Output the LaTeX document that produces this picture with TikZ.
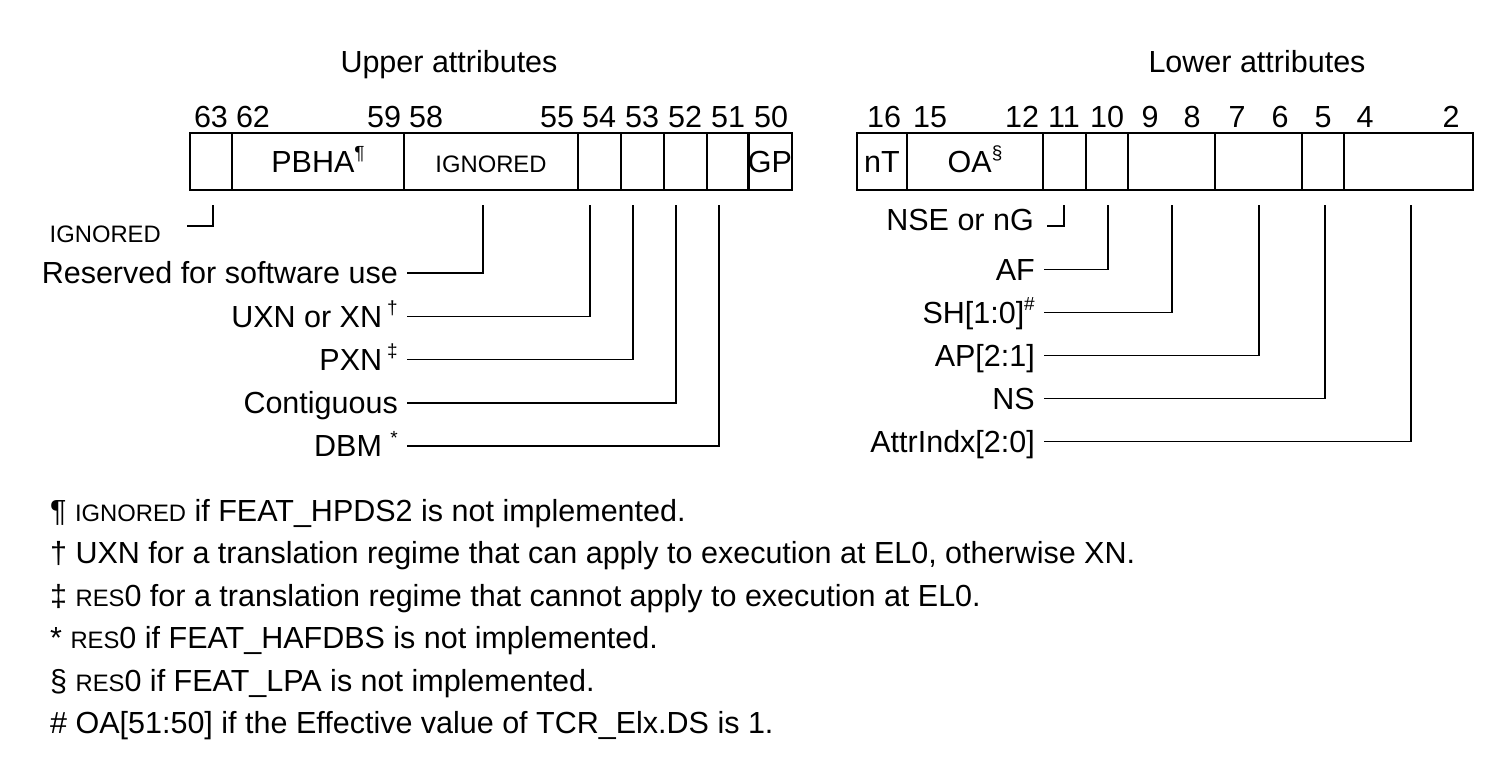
\documentclass[tikz,border=0pt]{standalone}
\usepackage{fontspec}
\setmainfont{Liberation Sans}
\newcommand{\smc}[1]{{\fontsize{23.8}{28}\selectfont #1}}
\newcommand{\supm}[1]{\raisebox{0.42em}{\fontsize{19}{22}\selectfont #1}}
\begin{document}
\begin{tikzpicture}[x=1pt,y=-1pt,
  every node/.style={font=\fontsize{30.5}{36}\selectfont, inner sep=0pt},
  field/.style={draw, line width=2.2pt, minimum height=57pt, text height=21.8pt, text depth=0pt},
  bitnum/.style={anchor=base},
  lbl/.style={anchor=east, text height=21.8pt, text depth=0pt, inner xsep=9pt, inner ysep=0pt},
  conn/.style={line width=1.8pt},
  foot/.style={anchor=base west}
]
\useasboundingbox (0,0) rectangle (1512,782);

% headings
\node[anchor=base] (uh) at (449,72) {Upper attributes};
\node[anchor=base] (lh) at (1257,72) {Lower attributes};

% upper register fields
\node[field, minimum width=42pt]  (f63) at (211,161.5) {};
\node[field, minimum width=172pt] (f62) at (318,161.5) {PBHA\supm{¶}};
\node[field, minimum width=174pt] (f58) at (491,161.5) {\smc{IGNORED}};
\node[field, minimum width=43pt]  (f54) at (599.5,161.5) {};
\node[field, minimum width=43pt]  (f53) at (642.5,161.5) {};
\node[field, minimum width=43pt]  (f52) at (685.5,161.5) {};
\node[field, minimum width=42pt]  (f51) at (728,161.5) {};
\node[field, minimum width=42pt]  (f50) at (770,161.5) {GP};

% lower register fields
\node[field, minimum width=50pt]  (f16) at (882,161.5) {nT};
\node[field, minimum width=136pt] (f15) at (975,161.5) {OA\supm{§}};
\node[field, minimum width=43pt]  (f11) at (1064.5,161.5) {};
\node[field, minimum width=42pt]  (f10) at (1107,161.5) {};
\node[field, minimum width=87pt]  (f9)  at (1171.5,161.5) {};
\node[field, minimum width=87pt]  (f7)  at (1258.5,161.5) {};
\node[field, minimum width=42pt]  (f5)  at (1323,161.5) {};
\node[field, minimum width=129pt] (f4)  at (1408.5,161.5) {};

% bit numbers
\foreach \n/\x in {63/211,62/253,59/384,58/426,55/557,54/599,53/642,52/685,51/728,50/771,
                   16/884,15/930,12/1022,11/1064,10/1107,9/1150,8/1192,7/1237,6/1280,5/1323,4/1365,2/1451}
  \node[bitnum] (b\n) at (\x,127) {\n};

% upper labels
\node[anchor=base east] (lign) at (161,242) {\smc{IGNORED}};
\coordinate (lignE) at (187,226);
\node[lbl] (lres) at (407,273) {Reserved for software use};
\node[lbl] (luxn) at (407,316.5) {UXN or XN\,\supm{†}};
\node[lbl] (lpxn) at (407,359.5) {PXN\,\supm{‡}};
\node[lbl] (lcon) at (407,403) {Contiguous};
\node[lbl] (ldbm) at (407,446) {DBM \supm{*}};

% upper connector tops
\coordinate (t63) at (213,205);
\coordinate (t58) at (483,205);
\coordinate (t54) at (590,205);
\coordinate (t53) at (633,205);
\coordinate (t52) at (676,205);
\coordinate (t51) at (719,205);

\draw[conn] (t63) |- (lignE);
\draw[conn] (t58) |- (lres.east);
\draw[conn] (t54) |- (luxn.east);
\draw[conn] (t53) |- (lpxn.east);
\draw[conn] (t52) |- (lcon.east);
\draw[conn] (t51) |- (ldbm.east);

% lower labels
\node[lbl] (lnse) at (1043,220) {NSE or nG};
\coordinate (lnseE) at (1047,226);
\node[lbl] (laf)  at (1044,269.5) {AF};
\node[lbl] (lsh)  at (1044,312.5) {SH[1:0]\supm{\#}};
\node[lbl] (lap)  at (1044,355.5) {AP[2:1]};
\node[lbl] (lns)  at (1044,398.5) {NS};
\node[lbl] (lat)  at (1044,441.5) {AttrIndx[2:0]};

\coordinate (t11) at (1064,205);
\coordinate (t10) at (1108,205);
\coordinate (t9)  at (1172,205);
\coordinate (t7)  at (1259,205);
\coordinate (t5)  at (1325,205);
\coordinate (t4)  at (1411,205);

\draw[conn] (t11) |- (lnseE);
\draw[conn] (t10) |- (laf.east);
\draw[conn] (t9)  |- (lsh.east);
\draw[conn] (t7)  |- (lap.east);
\draw[conn] (t5)  |- (lns.east);
\draw[conn] (t4)  |- (lat.east);

% footnotes
\node[foot] (n1) at (50,521)   {¶ \smc{IGNORED} if FEAT\_HPDS2 is not implemented.};
\node[foot] (n2) at (50,563.5) {† UXN for a translation regime that can apply to execution at EL0, otherwise XN.};
\node[foot] (n3) at (50,606)   {‡ \smc{RES}0 for a translation regime that cannot apply to execution at EL0.};
\node[foot] (n4) at (50,648.5) {* \smc{RES}0 if FEAT\_HAFDBS is not implemented.};
\node[foot] (n5) at (50,691)   {§ \smc{RES}0 if FEAT\_LPA is not implemented.};
\node[foot] (n6) at (50,733.5) {\# OA[51:50] if the Effective value of TCR\_Elx.DS is 1.};
\end{tikzpicture}
\end{document}
